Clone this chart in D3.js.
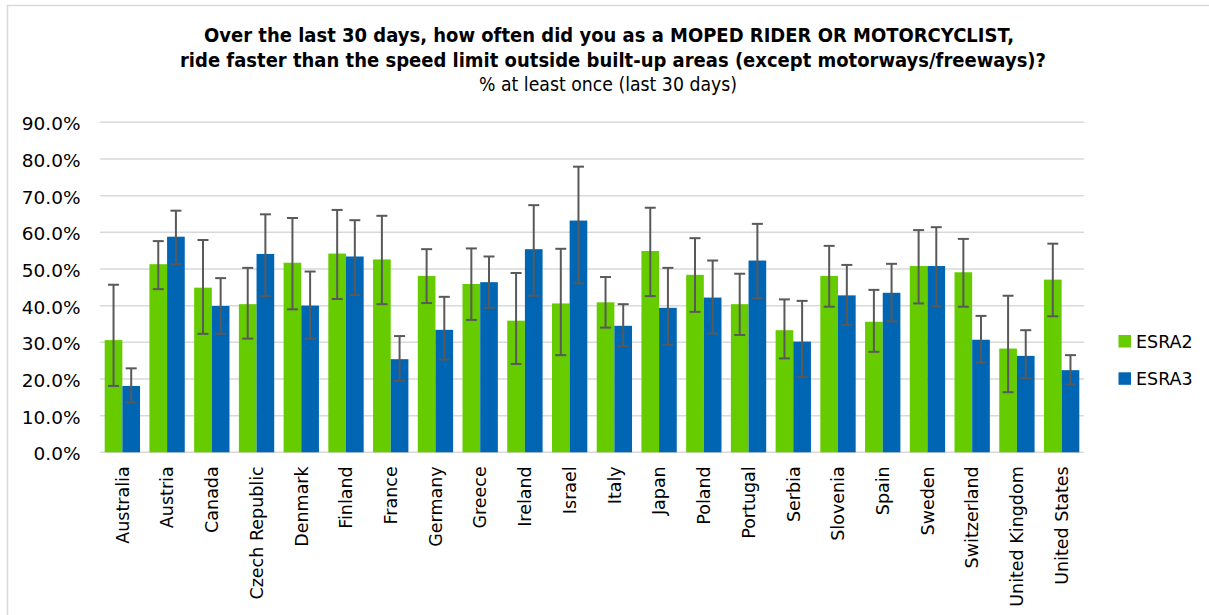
<!DOCTYPE html>
<html>
<head>
<meta charset="utf-8">
<script src="https://cdn.jsdelivr.net/npm/d3@7"></script>
<style>
  html, body { margin: 0; padding: 0; background: #fff; }
  svg { display: block; font-family: "DejaVu Sans", Verdana, sans-serif; }
</style>
</head>
<body>
<svg id="chart" width="1209" height="615"></svg>
<script>
// Countries surveyed
const countries = ["Australia", "Austria", "Canada", "Czech Republic", "Denmark", "Finland",
  "France", "Germany", "Greece", "Ireland", "Israel", "Italy", "Japan", "Poland", "Portugal",
  "Serbia", "Slovenia", "Spain", "Sweden", "Switzerland", "United Kingdom", "United States"];

// ESRA2 share (%) with confidence interval bounds
const esra2 = [30.6, 51.3, 44.9, 40.4, 51.7, 54.2, 52.6, 48.1, 45.9, 35.9, 40.6,
  40.9, 54.9, 48.4, 40.4, 33.3, 48.1, 35.6, 50.8, 49.1, 28.3, 47.1];
const esra2Low = [18.1, 44.5, 32.3, 31.0, 39.0, 41.8, 40.4, 40.7, 36.1, 24.1, 26.5,
  34.0, 42.6, 38.3, 32.0, 25.6, 39.7, 27.4, 40.6, 39.7, 16.4, 37.1];
const esra2High = [45.7, 57.6, 57.9, 50.3, 63.9, 66.1, 64.5, 55.4, 55.6, 48.9, 55.5,
  47.8, 66.7, 58.4, 48.7, 41.7, 56.3, 44.3, 60.6, 58.2, 42.7, 56.9];

// ESRA3 share (%) with confidence interval bounds
const esra3 = [18.1, 58.8, 39.9, 54.1, 40.0, 53.4, 25.4, 33.4, 46.4, 55.4, 63.2,
  34.5, 39.4, 42.2, 52.3, 30.2, 42.8, 43.5, 50.8, 30.7, 26.3, 22.4];
const esra3Low = [13.6, 51.3, 32.3, 42.6, 31.0, 42.9, 19.5, 25.3, 39.4, 42.7, 46.1,
  28.9, 29.3, 32.4, 42.0, 20.5, 34.7, 35.7, 39.8, 24.5, 20.2, 18.5];
const esra3High = [22.9, 65.9, 47.5, 64.9, 49.3, 63.3, 31.7, 42.4, 53.4, 67.4, 77.9,
  40.4, 50.3, 52.3, 62.3, 41.3, 51.1, 51.4, 61.4, 37.2, 33.3, 26.5];

const seriesNames = ["ESRA2", "ESRA3"];
const seriesColors = ["#66cc00", "#0066b3"];
const yTicks = [0, 10, 20, 30, 40, 50, 60, 70, 80, 90];

const titleLines = [
  "Over the last 30 days, how often did you as a MOPED RIDER OR MOTORCYCLIST,",
  "ride faster than the speed limit outside built-up areas (except motorways/freeways)?"
];
const subtitle = "% at least once (last 30 days)";

const series = [
  { name: seriesNames[0], values: esra2, low: esra2Low, high: esra2High },
  { name: seriesNames[1], values: esra3, low: esra3Low, high: esra3High }
];

const svg = d3.select("#chart");

// outer chart frame
svg.append("rect")
  .attr("x", 7.5).attr("y", 5.5)
  .attr("width", 1240).attr("height", 640)
  .attr("fill", "#fff")
  .attr("stroke", "#d9d9d9").attr("stroke-width", 1.5);

// titles
const title = svg.append("g").attr("text-anchor", "middle").attr("fill", "#000");
title.append("text")
  .attr("x", 609).attr("y", 41.5)
  .attr("font-size", 20).attr("font-weight", "bold")
  .attr("textLength", 810).attr("lengthAdjust", "spacingAndGlyphs")
  .text(titleLines[0]);
title.append("text")
  .attr("x", 613).attr("y", 66.5)
  .attr("font-size", 20).attr("font-weight", "bold")
  .attr("textLength", 866).attr("lengthAdjust", "spacingAndGlyphs")
  .text(titleLines[1]);
title.append("text")
  .attr("x", 608).attr("y", 90.5)
  .attr("font-size", 20)
  .attr("textLength", 258).attr("lengthAdjust", "spacingAndGlyphs")
  .text(subtitle);

// scales
const plotLeft = 100, plotRight = 1084, plotTop = 122.3, plotBottom = 452.3;
const y = d3.scaleLinear().domain([0, 90]).range([plotBottom, plotTop]);
const x0 = d3.scaleBand().domain(countries).range([plotLeft, plotRight])
  .paddingInner(0.21).paddingOuter(0.105);
const x1 = d3.scaleBand().domain(seriesNames).range([0, x0.bandwidth()]);

// gridlines
svg.append("g")
  .selectAll("line")
  .data(yTicks)
  .join("line")
  .attr("x1", plotLeft).attr("x2", plotRight)
  .attr("y1", d => y(d)).attr("y2", d => y(d))
  .attr("stroke", "#d9d9d9").attr("stroke-width", 1.5);

// y axis labels
const yAxis = d3.axisLeft(y).tickValues(yTicks).tickSize(0).tickPadding(0)
  .tickFormat(d => d3.format(".1f")(d) + "%");
const yG = svg.append("g").attr("transform", `translate(80.5,0)`).call(yAxis);
yG.select(".domain").remove();
yG.selectAll("text")
  .attr("font-family", "DejaVu Sans, Verdana, sans-serif")
  .attr("font-size", 18.5).attr("fill", "#000").attr("dy", "0.4em");

// x axis labels (rotated)
const xAxis = d3.axisBottom(x0).tickSize(0).tickPadding(0);
const xG = svg.append("g").attr("transform", `translate(0,${plotBottom})`).call(xAxis);
xG.select(".domain").remove();
xG.selectAll("text")
  .attr("font-family", "DejaVu Sans, Verdana, sans-serif")
  .attr("font-size", 17.5).attr("fill", "#000")
  .attr("text-anchor", "end")
  .attr("transform", "rotate(-90)")
  .attr("x", -14).attr("y", 0).attr("dy", "0.36em");

// bars
const groups = svg.append("g")
  .selectAll("g")
  .data(countries)
  .join("g")
  .attr("transform", c => `translate(${x0(c)},0)`);

series.forEach((s, si) => {
  groups.append("rect")
    .attr("x", x1(s.name))
    .attr("width", x1.bandwidth())
    .attr("y", (c, i) => y(s.values[i]))
    .attr("height", (c, i) => y(0) - y(s.values[i]))
    .attr("fill", seriesColors[si]);
});

// error bars
const capHalf = 5.5;
series.forEach((s) => {
  const cx = x1(s.name) + x1.bandwidth() / 2;
  const eb = groups.append("g")
    .attr("stroke", "#595959").attr("stroke-width", 2).attr("fill", "none");
  eb.append("line")
    .attr("x1", cx).attr("x2", cx)
    .attr("y1", (c, i) => y(s.low[i])).attr("y2", (c, i) => y(s.high[i]));
  eb.append("line")
    .attr("x1", cx - capHalf).attr("x2", cx + capHalf)
    .attr("y1", (c, i) => y(s.high[i])).attr("y2", (c, i) => y(s.high[i]));
  eb.append("line")
    .attr("x1", cx - capHalf).attr("x2", cx + capHalf)
    .attr("y1", (c, i) => y(s.low[i])).attr("y2", (c, i) => y(s.low[i]));
});

// legend
const legend = svg.append("g")
  .selectAll("g")
  .data(seriesNames)
  .join("g")
  .attr("transform", (d, i) => `translate(1118.5,${335 + i * 37.3})`);
legend.append("rect")
  .attr("width", 12.5).attr("height", 12.5)
  .attr("fill", (d, i) => seriesColors[i]);
legend.append("text")
  .attr("x", 17.5).attr("y", 12.7)
  .attr("font-size", 17.5).attr("fill", "#000")
  .text(d => d);
</script>
</body>
</html>
